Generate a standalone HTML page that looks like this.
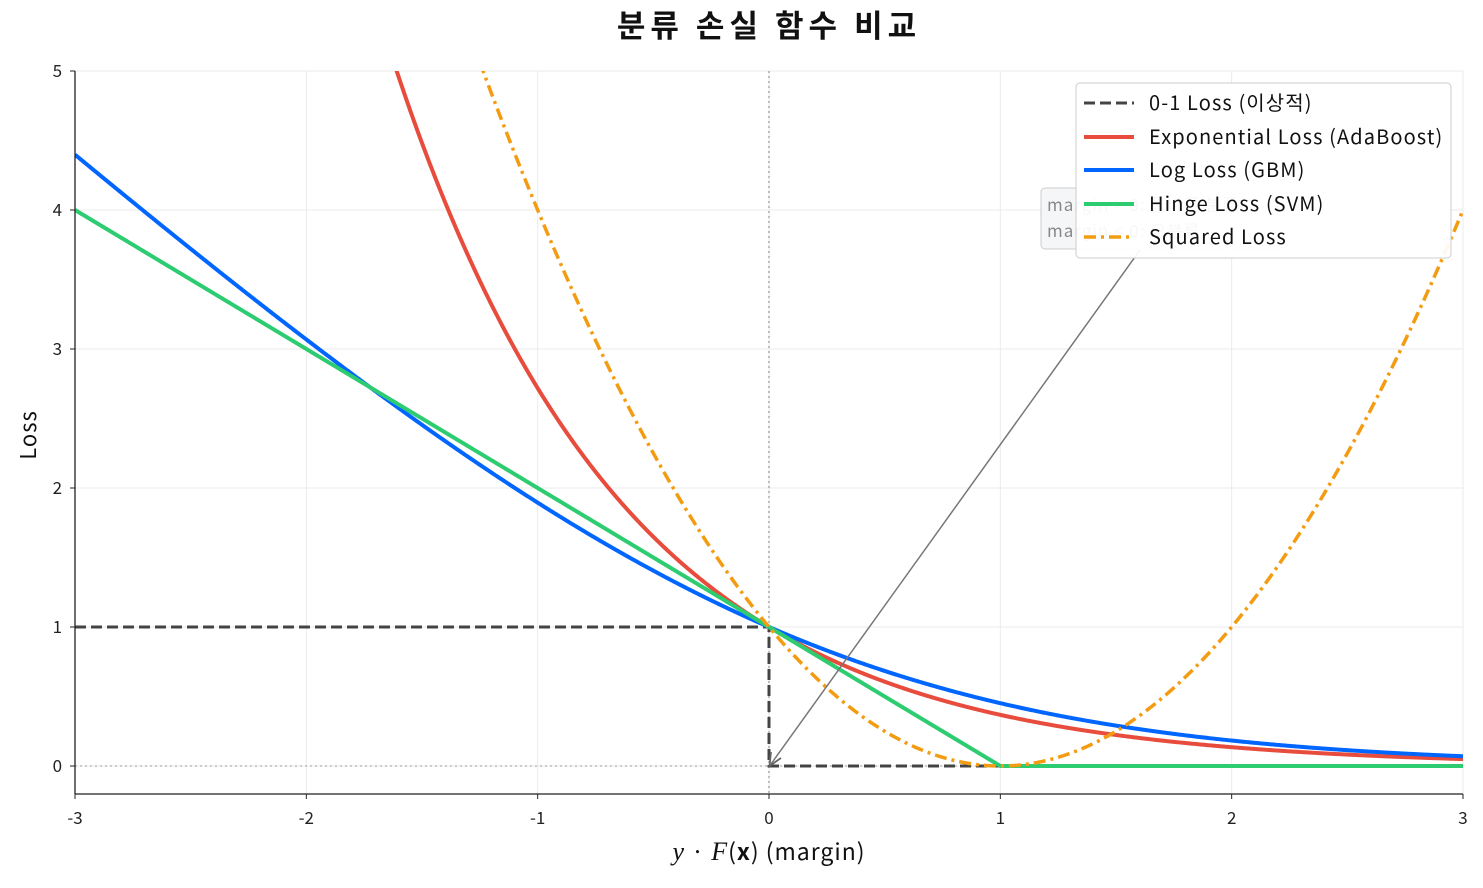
<!DOCTYPE html>
<html><head><meta charset="utf-8"><style>
body{margin:0;background:#fff;}
svg{font-family:"Noto Sans CJK KR","Liberation Sans",sans-serif;}
</style></head><body>
<svg id="s" width="1483" height="883" viewBox="0 0 1483 883" xmlns="http://www.w3.org/2000/svg">
<defs><clipPath id="c"><rect x="75" y="71" width="1388" height="723"/></clipPath></defs>
<rect width="1483" height="883" fill="#fff"/>
<g id="grid" stroke="#ebebeb" stroke-width="1"></g>
<text x="769" y="37" text-anchor="middle" font-size="31" font-weight="bold" fill="#111" letter-spacing="5">분류 손실 함수 비교</text>
<g clip-path="url(#c)" id="plot">
<line x1="75" y1="766" x2="1463" y2="766" stroke="#bbb" stroke-width="1.5" stroke-dasharray="2,3"/>
<line x1="769" y1="71" x2="769" y2="794" stroke="#aaa" stroke-width="1.5" stroke-dasharray="2,3"/>
</g>
<rect x="1041" y="188" width="242" height="61" rx="4" fill="#f5f6f8" stroke="#ccc"/>
<text x="1047" y="211" font-size="17" fill="#888" letter-spacing="1">margin &gt; 0: 올바른 분류</text>
<text x="1047" y="237" font-size="17" fill="#888" letter-spacing="1">margin &lt; 0: 오분류</text>
<line x1="1140" y1="250" x2="771" y2="764" stroke="#777" stroke-width="1.5"/>
<path d="M771 752 L769.5 766 L781 758" stroke="#666" stroke-width="1.8" fill="none"/>
<rect x="1076" y="83" width="375" height="175" rx="4" fill="#fff" fill-opacity="0.93" stroke="#ccc"/>
<g font-size="20" fill="#111" letter-spacing="1.1">
<line x1="1084" y1="103" x2="1134" y2="103" stroke="#444" stroke-width="3" stroke-dasharray="11,5"/>
<text x="1149" y="110">0-1 Loss (이상적)</text>
<line x1="1084" y1="137" x2="1134" y2="137" stroke="#e74c3c" stroke-width="4"/>
<text x="1149" y="144">Exponential Loss (AdaBoost)</text>
<line x1="1084" y1="170" x2="1134" y2="170" stroke="#0066ff" stroke-width="4"/>
<text x="1149" y="177">Log Loss (GBM)</text>
<line x1="1084" y1="204" x2="1134" y2="204" stroke="#2ecc71" stroke-width="4"/>
<text x="1149" y="211">Hinge Loss (SVM)</text>
<line x1="1084" y1="237" x2="1134" y2="237" stroke="#f39c12" stroke-width="3.5" stroke-dasharray="12,5,3,5"/>
<text x="1149" y="244">Squared Loss</text>
</g>
<g stroke="#222" stroke-width="1.3"><line x1="75" y1="71" x2="75" y2="794"/><line x1="75" y1="794" x2="1463" y2="794"/></g>
<g id="ticks" font-size="17" fill="#222"></g>
<text x="36" y="435" font-size="22" fill="#111" text-anchor="middle" letter-spacing="1" transform="rotate(-90 36 435)">Loss</text>
<text x="769" y="860" font-size="23" fill="#111" text-anchor="middle" letter-spacing="1"><tspan font-family="Liberation Serif" font-style="italic" font-size="26">y</tspan> · <tspan font-family="Liberation Serif" font-style="italic" font-size="26">F</tspan>(<tspan font-weight="bold">x</tspan>)   (margin)</text>
</svg>
<script>
const X=m=>769+m*231.333,Y=v=>766-v*139;
const ns="http://www.w3.org/2000/svg";
const g=document.getElementById('grid'),t=document.getElementById('ticks'),p=document.getElementById('plot');
function el(par,tag,a,txt){const e=document.createElementNS(ns,tag);for(const k in a)e.setAttribute(k,a[k]);if(txt!=null)e.textContent=txt;par.appendChild(e);return e;}
for(let i=-3;i<=3;i++){const x=X(i);el(g,'line',{x1:x,y1:71,x2:x,y2:794});el(t,'line',{x1:x,y1:794,x2:x,y2:799,stroke:'#222'});el(t,'text',{x:x,y:824,'text-anchor':'middle'},String(i));}
for(let i=0;i<=5;i++){const y=Y(i);el(g,'line',{x1:75,y1:y,x2:1463,y2:y});el(t,'line',{x1:70,y1:y,x2:75,y2:y,stroke:'#222'});el(t,'text',{x:62,y:y+6,'text-anchor':'end'},String(i));}
function path(f,st){let d='';for(let i=0;i<=1200;i++){const m=-3+6*i/1200;let v=f(m);if(v>8)v=8;d+=(i?'L':'M')+X(m).toFixed(2)+' '+Y(v).toFixed(2);}st.d=d;st.fill='none';el(p,'path',st);}
el(p,'path',{d:`M75 ${Y(1)} L769 ${Y(1)} L769 ${Y(0)} L1463 ${Y(0)}`,fill:'none',stroke:'#444','stroke-width':3,'stroke-dasharray':'11,5'});
path(m=>Math.exp(-m),{stroke:'#e74c3c','stroke-width':4});
path(m=>Math.log2(1+Math.exp(-m)),{stroke:'#0066ff','stroke-width':4});
path(m=>Math.max(0,1-m),{stroke:'#2ecc71','stroke-width':4});
path(m=>(1-m)*(1-m),{stroke:'#f39c12','stroke-width':3.5,'stroke-dasharray':'12,5,3,5'});
</script>
</body></html>
